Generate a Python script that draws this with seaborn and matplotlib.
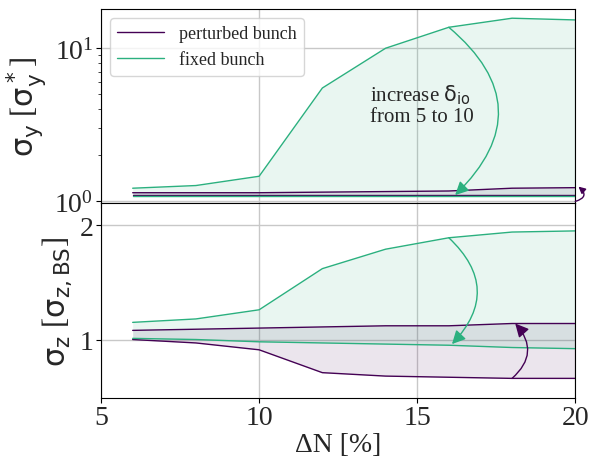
import matplotlib
matplotlib.use('Agg')
import matplotlib.pyplot as plt
import numpy as np
import seaborn as sns
import pandas as pd

# Delta N [%]
dN = [6, 8, 10, 12, 14, 16, 18, 20]

# sigma_y (top panel)
sy_pert_lo = [1.10, 1.10, 1.10, 1.10, 1.10, 1.10, 1.10, 1.10]
sy_pert_hi = [1.14, 1.14, 1.14, 1.15, 1.16, 1.17, 1.22, 1.23]
sy_fix_lo = [1.09, 1.09, 1.09, 1.09, 1.09, 1.09, 1.09, 1.09]
sy_fix_hi = [1.22, 1.27, 1.46, 5.5, 10.0, 13.7, 15.7, 15.3]

# sigma_z (bottom panel)
sz_pert_lo = [1.00, 0.97, 0.91, 0.71, 0.68, 0.67, 0.66, 0.66]
sz_pert_hi = [1.08, 1.09, 1.10, 1.11, 1.12, 1.12, 1.14, 1.14]
sz_fix_lo = [1.01, 1.00, 0.98, 0.97, 0.96, 0.95, 0.93, 0.92]
sz_fix_hi = [1.15, 1.18, 1.26, 1.62, 1.79, 1.89, 1.94, 1.95]

labels = ['perturbed bunch', 'fixed bunch']
c_pert = '#440154'
c_fix = '#2bb07f'

sns.set_style('ticks')
plt.rcParams['font.family'] = ['Liberation Serif', 'DejaVu Serif']
plt.rcParams['mathtext.fontset'] = 'dejavusans'
plt.rcParams['mathtext.default'] = 'rm'

fig, (ax1, ax2) = plt.subplots(2, 1, sharex=True, figsize=(5.98, 4.6), dpi=100)
fig.subplots_adjust(left=0.169, right=0.962, top=0.978, bottom=0.133, hspace=0)

df = pd.DataFrame({'dN': dN, 'sy_pl': sy_pert_lo, 'sy_ph': sy_pert_hi,
                   'sy_fl': sy_fix_lo, 'sy_fh': sy_fix_hi,
                   'sz_pl': sz_pert_lo, 'sz_ph': sz_pert_hi,
                   'sz_fl': sz_fix_lo, 'sz_fh': sz_fix_hi})

for ax, p in [(ax1, 'sy'), (ax2, 'sz')]:
    sns.lineplot(data=df, x='dN', y=p + '_ph', color=c_pert, lw=1, ax=ax, label=labels[0])
    sns.lineplot(data=df, x='dN', y=p + '_pl', color=c_pert, lw=1, ax=ax)
    sns.lineplot(data=df, x='dN', y=p + '_fh', color=c_fix, lw=1, ax=ax, label=labels[1])
    sns.lineplot(data=df, x='dN', y=p + '_fl', color=c_fix, lw=1, ax=ax)
    ax.fill_between(df['dN'], df[p + '_pl'], df[p + '_ph'], color=c_pert, alpha=0.1, lw=0)
    ax.fill_between(df['dN'], df[p + '_fl'], df[p + '_fh'], color=c_fix, alpha=0.1, lw=0)
    ax.grid(True, color='#c8c8c8', lw=1)
    for s in ax.spines.values():
        s.set_color('black')
    ax.tick_params(labelsize=20, direction='out', color='black', pad=2)

ax1.set_yscale('log')
ax1.set_ylim(0.97, 18)
ax1.set_ylabel(r'$\sigma_y$ [$\sigma_y^*$]', fontsize=22)
ax1.legend(loc='upper left', fontsize=13, framealpha=0.8, handlelength=2.6)
ax1.grid(False, which='minor')

ax2.set_ylim(0.49, 2.19)
ax2.set_yticks([1, 2])
ax2.set_ylabel(r'$\sigma_z$ [$\sigma_{z,\mathrm{BS}}$]', fontsize=22)
ax2.get_legend().remove()
ax2.set_xlim(5, 20)
ax2.set_xticks([5, 10, 15, 20])
ax2.set_xlabel('ΔN [%]', fontsize=20, labelpad=1)

# arrows
ax1.annotate('', xy=(16.2, 1.1), xytext=(16, 13.7),
             arrowprops=dict(arrowstyle='-|>', color=c_fix, lw=1, mutation_scale=20,
                             connectionstyle='arc3,rad=-0.55', shrinkA=0, shrinkB=0))
ax1.annotate('', xy=(20.1, 1.25), xytext=(20, 1.0),
             arrowprops=dict(arrowstyle='-|>', color=c_pert, lw=1, mutation_scale=10,
                             connectionstyle='arc3,rad=0.9', shrinkA=0, shrinkB=0),
             annotation_clip=False)
ax1.text(13.5, 6.0, 'increase $\\delta_{\\mathrm{io}}$\nfrom 5 to 10', fontsize=15,
         va='top', linespacing=1.1)

ax2.annotate('', xy=(16.1, 0.96), xytext=(16, 1.89),
             arrowprops=dict(arrowstyle='-|>', color=c_fix, lw=1, mutation_scale=20,
                             connectionstyle='arc3,rad=-0.5', shrinkA=0, shrinkB=0))
ax2.annotate('', xy=(18.1, 1.14), xytext=(18, 0.66),
             arrowprops=dict(arrowstyle='-|>', color=c_pert, lw=1, mutation_scale=20,
                             connectionstyle='arc3,rad=0.5', shrinkA=0, shrinkB=0))

plt.savefig('out.png', dpi=100)
